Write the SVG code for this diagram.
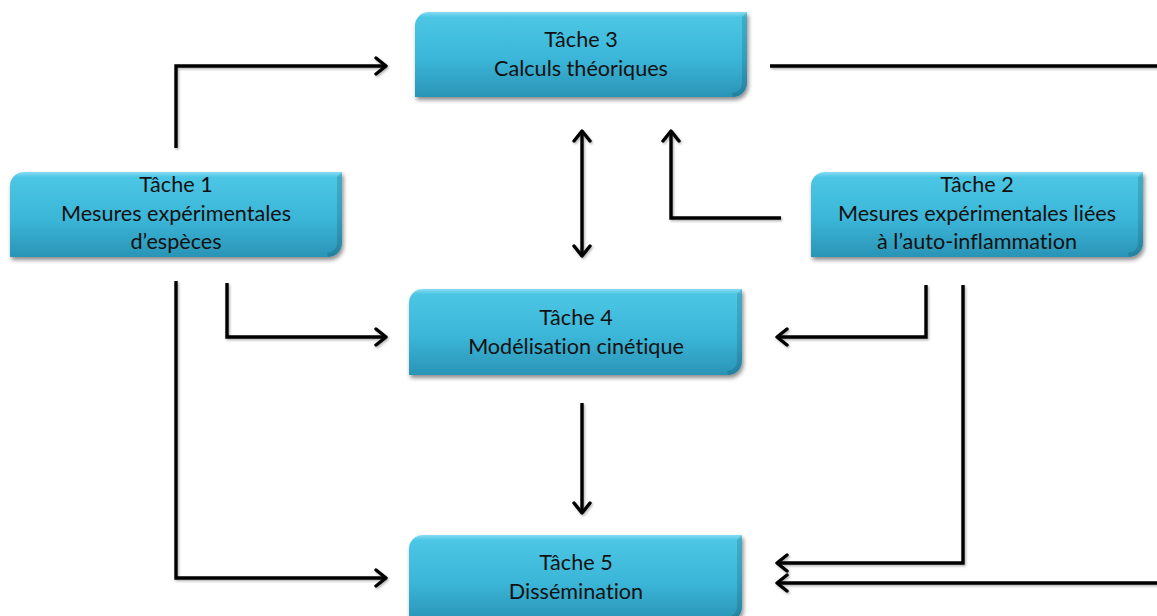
<svg xmlns="http://www.w3.org/2000/svg" width="1157" height="616" viewBox="0 0 1157 616">
  <defs>
    <linearGradient id="boxFill" x1="0" y1="0" x2="0" y2="1">
      <stop offset="0" stop-color="#86dcf2"/>
      <stop offset="0.06" stop-color="#4cc6e4"/>
      <stop offset="0.55" stop-color="#3bb6d8"/>
      <stop offset="1" stop-color="#2a94b6"/>
    </linearGradient>
    <filter id="boxShadow" x="-10%" y="-20%" width="120%" height="150%">
      <feDropShadow dx="1.5" dy="3" stdDeviation="2.2" flood-color="#000" flood-opacity="0.45"/>
    </filter>
    <filter id="lineShadow" x="-5%" y="-5%" width="110%" height="110%">
      <feDropShadow dx="1.2" dy="1.5" stdDeviation="1" flood-color="#000" flood-opacity="0.3"/>
    </filter>
    <marker id="arrow" markerUnits="userSpaceOnUse" viewBox="-14 -12 16 24" refX="0" refY="0" markerWidth="16" markerHeight="24" orient="auto-start-reverse">
      <path d="M-10,-8 L0,0 L-10,8" fill="none" stroke="#000" stroke-width="3.4" stroke-linejoin="round" stroke-linecap="round"/>
    </marker>
  </defs>
  <style>
    .box { fill: url(#boxFill); filter: url(#boxShadow); }
    .bevel { fill: #000; opacity: 0.13; }
    .lbl { font-family: "Lato", "Liberation Sans", sans-serif; font-size: 21.6px; fill: #111111; text-anchor: middle; font-variant-ligatures: none; font-feature-settings: "liga" 0, "clig" 0; }
    .conn { fill: none; stroke: #000; stroke-width: 3.4; stroke-linejoin: miter; }
    .arr { marker-end: url(#arrow); }
  </style>
  <rect width="1157" height="616" fill="#ffffff"/>

  <g id="connectors" filter="url(#lineShadow)">
    <path class="conn arr" d="M176,148 V66 H386"/>
    <path class="conn arr" d="M770,66 H1162 V583 H777"/>
    <path class="conn arr" d="M582,131 V256" marker-start="url(#arrow)"/>
    <path class="conn arr" d="M781,218 H671 V131"/>
    <path class="conn arr" d="M227,283 V337 H386"/>
    <path class="conn arr" d="M926,285 V337 H777"/>
    <path class="conn arr" d="M176,281 V578 H386"/>
    <path class="conn arr" d="M582,403 V513"/>
    <path class="conn arr" d="M963,285 V563 H777"/>
  </g>

  <g id="tache3">
    <path class="box" d="M429,12 H747 V83 A14,14 0 0 1 733,97 H415 V26 A14,14 0 0 1 429,12 Z"/>
    <path class="bevel" d="M747,12 V83 A14,14 0 0 1 733,97 L732,93 A10,10 0 0 0 742,83 V17 Z"/>
    <text class="lbl" x="581" y="47">Tâche 3</text>
    <text class="lbl" x="581" y="76">Calculs théoriques</text>
  </g>

  <g id="tache1">
    <path class="box" d="M24,172 H342 V243 A14,14 0 0 1 328,257 H10 V186 A14,14 0 0 1 24,172 Z"/>
    <path class="bevel" d="M342,172 V243 A14,14 0 0 1 328,257 L327,253 A10,10 0 0 0 337,243 V177 Z"/>
    <text class="lbl" x="176" y="192">Tâche 1</text>
    <text class="lbl" x="176" y="221">Mesures expérimentales</text>
    <text class="lbl" x="176" y="249">d’espèces</text>
  </g>

  <g id="tache2">
    <path class="box" d="M825,172 H1143 V243 A14,14 0 0 1 1129,257 H811 V186 A14,14 0 0 1 825,172 Z"/>
    <path class="bevel" d="M1143,172 V243 A14,14 0 0 1 1129,257 L1128,253 A10,10 0 0 0 1138,243 V177 Z"/>
    <text class="lbl" x="977" y="192">Tâche 2</text>
    <text class="lbl" x="977" y="221">Mesures expérimentales liées</text>
    <text class="lbl" x="977" y="249">à l’auto-inflammation</text>
  </g>

  <g id="tache4">
    <path class="box" d="M423,289 H742 V361 A14,14 0 0 1 728,375 H409 V303 A14,14 0 0 1 423,289 Z"/>
    <path class="bevel" d="M742,289 V361 A14,14 0 0 1 728,375 L727,371 A10,10 0 0 0 737,361 V294 Z"/>
    <text class="lbl" x="576" y="325">Tâche 4</text>
    <text class="lbl" x="576" y="354">Modélisation cinétique</text>
  </g>

  <g id="tache5">
    <path class="box" d="M423,535 H742 V607 A14,14 0 0 1 728,621 H409 V549 A14,14 0 0 1 423,535 Z"/>
    <path class="bevel" d="M742,535 V607 A14,14 0 0 1 728,621 L727,617 A10,10 0 0 0 737,607 V540 Z"/>
    <text class="lbl" x="576" y="570">Tâche 5</text>
    <text class="lbl" x="576" y="599">Dissémination</text>
  </g>
</svg>
